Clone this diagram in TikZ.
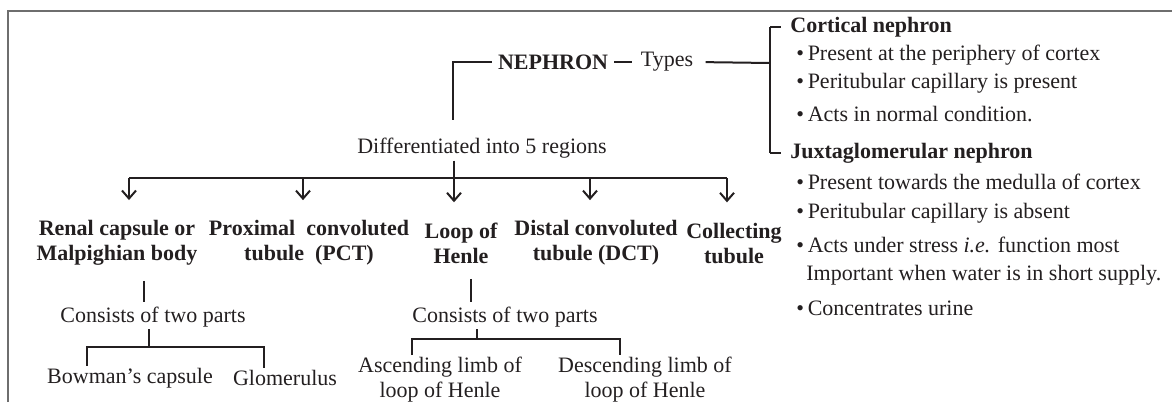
\documentclass[tikz,border=0pt]{standalone}
\usepackage{fontspec}
\setmainfont{Liberation Serif}
\usepackage{xcolor}
\definecolor{nptext}{RGB}{35,31,32}
\definecolor{npframe}{RGB}{110,110,110}
\usetikzlibrary{arrows.meta, positioning}

\begin{document}
\begin{tikzpicture}[x=0.5pt, y=-0.5pt,
  every node/.style={font=\fontsize{11}{12.5}\selectfont, text=nptext, inner sep=1pt},
  region/.style={font=\fontsize{11}{12.5}\selectfont\bfseries, align=center},
  item/.style={anchor=west},
  conn/.style={draw=nptext, line width=1pt},
  tip/.style={conn, -{Straight Barb[length=4pt, width=7pt]}}]
  \useasboundingbox (0,0) rectangle (1172,402);
  \draw[npframe, line width=0.6pt] (8,402) -- (8,11) -- (1172,11);

  % top: nephron and its types
  \node (nephron) at (553,62) {\bfseries NEPHRON};
  \node (types) at (667,62) {Types};
  \draw[conn, shorten <=2pt, shorten >=3pt] (nephron) -- (types);
  \coordinate (hub) at (770,63);
  \draw[conn, shorten <=5pt] (types.east) -- (hub);

  \node[item, font=\fontsize{11}{12.5}\selectfont\bfseries] (cortical) at (788,27) {Cortical nephron};
  \node[item] (p1) at (794,55) {\textbullet\,Present at the periphery of cortex};
  \node[item] (p2) at (794,83) {\textbullet\,Peritubular capillary is present};
  \node[item] (p3) at (794,114) {\textbullet\,Acts in normal condition.};
  \node[item, font=\fontsize{11}{12.5}\selectfont\bfseries] (juxta) at (788,153) {Juxtaglomerular nephron};
  \node[item] (q1) at (794,182) {\textbullet\,Present towards the medulla of cortex};
  \node[item] (q2) at (794,213) {\textbullet\,Peritubular capillary is absent};
  \node[item] (q3) at (794,245) {\textbullet\,Acts under stress \textit{i.e.} function most};
  \node[item] (q4) at (804,275) {Important when water is in short supply.};
  \node[item] (q5) at (794,308) {\textbullet\,Concentrates urine};

  \draw[conn, line width=0.8pt, shorten >=3.5pt] (cortical.west -| hub) -- (cortical.west);
  \draw[conn, line width=0.8pt] (cortical.west -| hub) -- (juxta.west -| hub);
  \draw[conn, line width=0.8pt, shorten >=3.5pt] (juxta.west -| hub) -- (juxta.west);

  % five regions
  \coordinate (nleft) at (453,120);
  \draw[conn, shorten <=2pt] (nephron.west) -| (nleft);
  \node (diff) at (482,148) {Differentiated into 5 regions};

  \coordinate (a1) at (129,178);
  \coordinate (a2) at (303,178);
  \coordinate (a3) at (454,178);
  \coordinate (a4) at (590,178);
  \coordinate (a5) at (727,178);
  \draw[conn] (a1) -- (a5);
  \draw[conn] (diff.south -| a3) -- (a3);

  \node[region] (r1) at (117,243) {Renal capsule or\\Malpighian body};
  \node[region] (r2) at (309,243) {Proximal\enspace convoluted\\tubule\enspace (PCT)};
  \node[region] (r3) at (461,243) {Loop of\\Henle};
  \node[region] (r4) at (596,243) {Distal convoluted\\tubule (DCT)};
  \node[region] (r5) at (734,243) {Collecting\\tubule};

  \foreach \i in {1,...,5}
    \draw[tip, shorten >=9pt] (a\i) -- (a\i |- r\i.north);

  % parts of renal capsule
  \node (c1) at (153,317) {Consists of two parts};
  \coordinate (v1) at (144,0);
  \draw[conn, shorten <=6.5pt, shorten >=1.5pt] (r1.south -| v1) -- (c1.north -| v1);
  \node (b1) at (130,378) {Bowman’s capsule};
  \node (g1) at (285,378) {Glomerulus};
  \coordinate (t1) at (149,347);
  \coordinate (k1) at (87,347);
  \coordinate (k2) at (264,347);
  \draw[conn] (c1.south -| t1) -- (t1);
  \draw[conn] (b1.north -| k1) |- (k2) -- (g1.north -| k2);

  % parts of loop of Henle
  \node (c2) at (505,317) {Consists of two parts};
  \coordinate (v2) at (471,0);
  \draw[conn, shorten <=6.5pt, shorten >=1.5pt] (r3.south -| v2) -- (c2.north -| v2);
  \node[align=center] (asc) at (440,380) {Ascending limb of\\loop of Henle};
  \node[align=center] (desc) at (645,380) {Descending limb of\\loop of Henle};
  \coordinate (t2) at (477,339);
  \coordinate (k3) at (412,339);
  \coordinate (k4) at (620,339);
  \draw[conn] (c2.south -| t2) -- (t2);
  \draw[conn] (asc.north -| k3) |- (k4) -- (desc.north -| k4);
\end{tikzpicture}
\end{document}
